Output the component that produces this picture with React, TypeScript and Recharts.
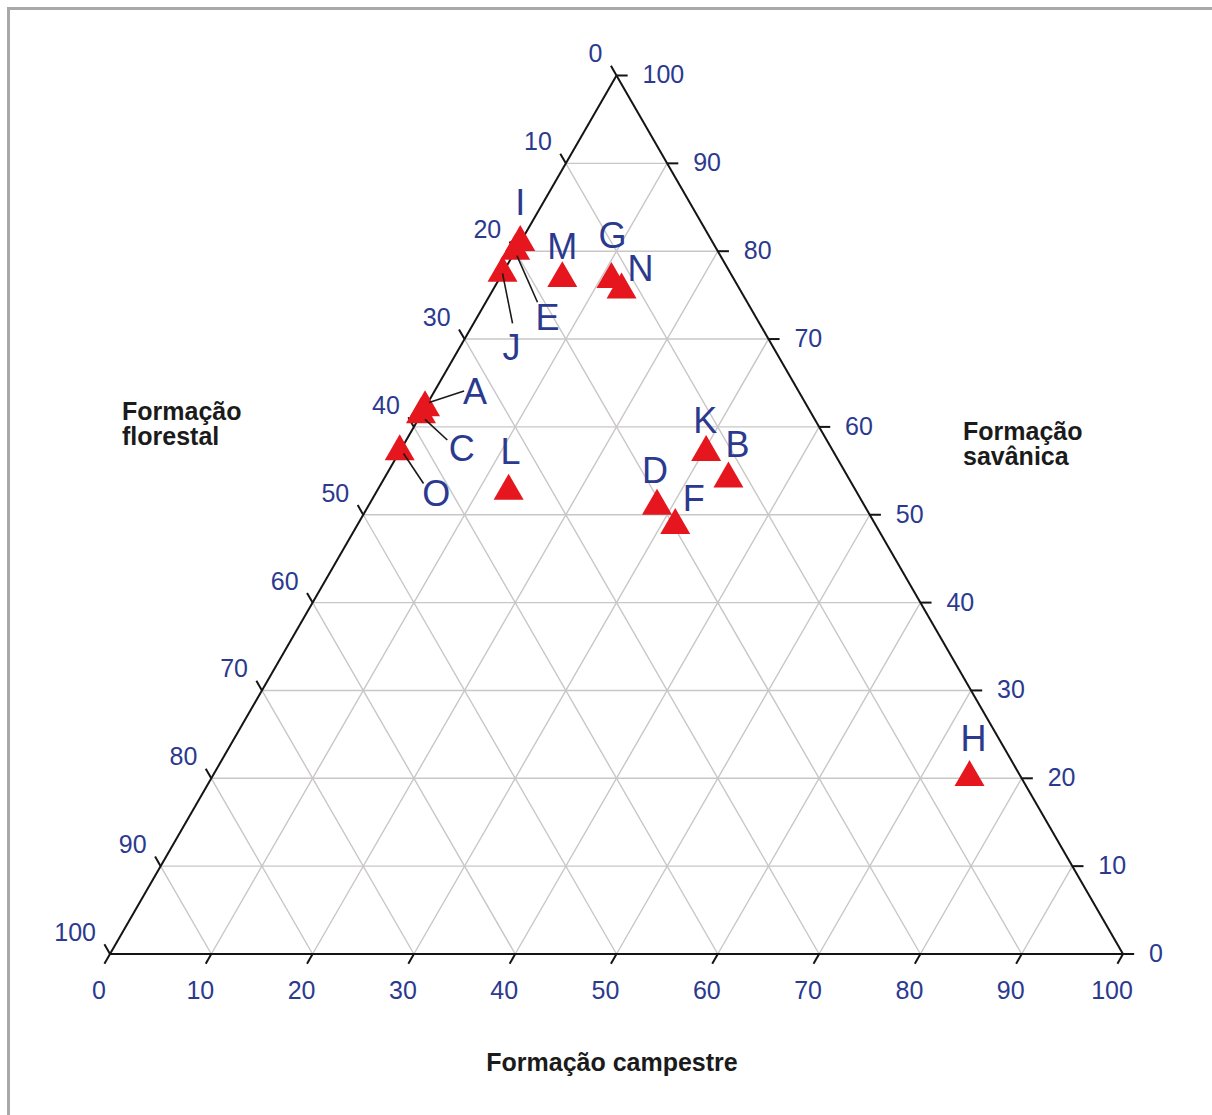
import React from 'react';
import { ScatterChart, Scatter, XAxis, YAxis, ReferenceLine } from 'recharts';

// Composition of each site (% of area) by vegetation formation
const siteIds = ['A', 'B', 'C', 'D', 'E', 'F', 'G', 'H', 'I', 'J', 'K', 'L', 'M', 'N', 'O'];
const florestal = [37.8, 11.9, 38.6, 20.5, 20.0, 19.8, 12.1, 5.1, 19.0, 22.5, 12.6, 34.3, 16.9, 11.7, 42.8];
const campestre = [0, 34.0, 0, 28.5, 0, 31.4, 11.1, 74.8, 0, 0, 30.3, 13.0, 6.2, 12.7, 0];
const savanica = [62.2, 54.1, 61.4, 51.0, 80.0, 48.8, 76.8, 20.1, 81.0, 77.5, 57.1, 52.7, 76.9, 75.6, 57.2];

const tickValues = [0, 10, 20, 30, 40, 50, 60, 70, 80, 90, 100];
const gridValues = [10, 20, 30, 40, 50, 60, 70, 80, 90];

const titleFlorestal = ['Formação', 'florestal'];
const titleSavanica = ['Formação', 'savânica'];
const titleCampestre = 'Formação campestre';

const H = Math.sqrt(3) / 2;
const TICK = 1.1;

const NAVY = '#2b3a8e';
const RED = '#e5161d';
const GRID = '#c9c6c6';
const EDGE = '#141414';
const FONT = '"Liberation Sans", Arial, Helvetica, sans-serif';

// ternary (campestre, savânica) -> cartesian, triangle side = 100
const toXY = (c: number, s: number) => ({ x: c + s / 2, y: s * H });

const points = siteIds.map((id, i) => {
  const total = florestal[i] + campestre[i] + savanica[i];
  const c = (campestre[i] / total) * 100;
  const s = (savanica[i] / total) * 100;
  return { id, ...toXY(c, s) };
});

// pixel offsets for letter labels and their leader lines
const labelLayout: Record<string, { dx: number; dy: number; leader?: [number, number, number, number] }> = {
  A: { dx: 50, dy: -16, leader: [4, -5, 39, -16.6] },
  B: { dx: 9, dy: -35 },
  C: { dx: 40.7, dy: 33.7, leader: [4, 4.7, 26.3, 25.4] },
  D: { dx: -2, dy: -36 },
  E: { dx: 32.3, dy: 66, leader: [1.7, 4.4, 22.3, 51] },
  F: { dx: 18.5, dy: -27 },
  G: { dx: 1, dy: -44 },
  H: { dx: 4, dy: -39 },
  I: { dx: 0, dy: -40 },
  J: { dx: 9, dy: 73.7, leader: [0, 0.3, 10, 50.3] },
  K: { dx: -1, dy: -32 },
  L: { dx: 2, dy: -40 },
  M: { dx: 0, dy: -32 },
  N: { dx: 19, dy: -22 },
  O: { dx: 36.5, dy: 42, leader: [3.8, 2, 23.8, 32] },
};

const bottomTicks = tickValues.map((v) => ({ ...toXY(v, 0), text: v }));
const rightTicks = tickValues.map((v) => ({ ...toXY(100 - v, v), text: v }));
const leftTicks = tickValues.map((v) => ({ ...toXY(0, 100 - v), text: v }));

const edges: [number, number, number, number][] = [
  [0, 0, 100, 0],
  [100, 0, 50, 100 * H],
  [50, 100 * H, 0, 0],
];

const gridSegments: [number, number, number, number][] = [];
gridValues.forEach((v) => {
  // constant savânica
  gridSegments.push([v / 2, v * H, 100 - v / 2, v * H]);
  // constant campestre (parallel to the left side)
  gridSegments.push([v, 0, v + (100 - v) / 2, (100 - v) * H]);
  // constant florestal (parallel to the right side)
  gridSegments.push([100 - v, 0, (100 - v) / 2, (100 - v) * H]);
});

const tickSegments: [number, number, number, number][] = [];
tickValues.forEach((v) => {
  tickSegments.push([v, 0, v - TICK / 2, -TICK * H]);
  const r = toXY(100 - v, v);
  tickSegments.push([r.x, r.y, r.x + TICK, r.y]);
  const l = toXY(0, 100 - v);
  tickSegments.push([l.x, l.y, l.x - TICK / 2, l.y + TICK * H]);
});

const TICK_FS = 25;
const LETTER_FS = 36;

const TriangleMarker = (props: any) => {
  const { cx, cy } = props;
  const hw = 15;
  const top = cy - 17.3;
  const base = cy + 8.66;
  return <polygon points={`${cx},${top} ${cx - hw},${base} ${cx + hw},${base}`} fill={RED} />;
};

const SiteLabel = (props: any) => {
  const { cx, cy, payload } = props;
  const lay = labelLayout[payload.id];
  return (
    <g>
      {lay.leader && (
        <line
          x1={cx + lay.leader[0]}
          y1={cy + lay.leader[1]}
          x2={cx + lay.leader[2]}
          y2={cy + lay.leader[3]}
          stroke="#1a1a1a"
          strokeWidth={1.6}
        />
      )}
      <text
        x={cx + lay.dx}
        y={cy + lay.dy + 0.358 * LETTER_FS}
        textAnchor="middle"
        fontSize={LETTER_FS}
        fontFamily={FONT}
        fill={NAVY}
      >
        {payload.id}
      </text>
    </g>
  );
};

const BottomTickLabel = (props: any) => (
  <text
    x={props.cx - 11}
    y={props.cy + 36 + 0.358 * TICK_FS}
    textAnchor="middle"
    fontSize={TICK_FS}
    fontFamily={FONT}
    fill={NAVY}
  >
    {props.payload.text}
  </text>
);

const RightTickLabel = (props: any) => (
  <text
    x={props.cx + 26}
    y={props.cy - 1 + 0.358 * TICK_FS}
    textAnchor="start"
    fontSize={TICK_FS}
    fontFamily={FONT}
    fill={NAVY}
  >
    {props.payload.text}
  </text>
);

const LeftTickLabel = (props: any) => (
  <text
    x={props.cx - 14}
    y={props.cy - 22 + 0.358 * TICK_FS}
    textAnchor="end"
    fontSize={TICK_FS}
    fontFamily={FONT}
    fill={NAVY}
  >
    {props.payload.text}
  </text>
);

const segLine = (s: [number, number, number, number], key: string, stroke: string, width: number) => (
  <ReferenceLine
    key={key}
    segment={[
      { x: s[0], y: s[1] },
      { x: s[2], y: s[3] },
    ]}
    stroke={stroke}
    strokeWidth={width}
    ifOverflow="visible"
    zIndex={-50}
  />
);

export default function App() {
  return (
    <div
      style={{
        position: 'absolute',
        left: 0,
        top: 0,
        width: 1212,
        height: 1115,
        background: '#ffffff',
        overflow: 'hidden',
      }}
    >
      <div
        style={{
          position: 'absolute',
          left: 7,
          top: 7,
          right: 0,
          bottom: 0,
          borderLeft: '3px solid #a9a9a9',
          borderTop: '3px solid #a9a9a9',
        }}
      />
      <div style={{ position: 'absolute', left: 0, top: 0 }}>
        <ScatterChart width={1212} height={1115} margin={{ top: 75.5, right: 89, bottom: 161, left: 110 }}>
          <XAxis type="number" dataKey="x" domain={[0, 100]} hide />
          <YAxis type="number" dataKey="y" domain={[0, 100 * H]} hide />
          {gridSegments.map((s, i) => segLine(s, `g${i}`, GRID, 1.4))}
          {tickSegments.map((s, i) => segLine(s, `t${i}`, EDGE, 2))}
          {edges.map((s, i) => segLine(s, `e${i}`, EDGE, 2))}
          <Scatter data={points} shape={TriangleMarker} isAnimationActive={false} />
          <Scatter data={points} shape={SiteLabel} isAnimationActive={false} />
          <Scatter data={bottomTicks} shape={BottomTickLabel} isAnimationActive={false} />
          <Scatter data={rightTicks} shape={RightTickLabel} isAnimationActive={false} />
          <Scatter data={leftTicks} shape={LeftTickLabel} isAnimationActive={false} />
        </ScatterChart>
      </div>
      <svg
        width={1212}
        height={1115}
        style={{ position: 'absolute', left: 0, top: 0, pointerEvents: 'none' }}
      >
        <g fontFamily={FONT} fontWeight="bold" fontSize={25} fill="#1b1b1b">
          <text x={122} y={419.5}>{titleFlorestal[0]}</text>
          <text x={122} y={445}>{titleFlorestal[1]}</text>
          <text x={963} y={439.5}>{titleSavanica[0]}</text>
          <text x={963} y={465}>{titleSavanica[1]}</text>
          <text x={612} y={1070.5} textAnchor="middle">{titleCampestre}</text>
        </g>
      </svg>
    </div>
  );
}
